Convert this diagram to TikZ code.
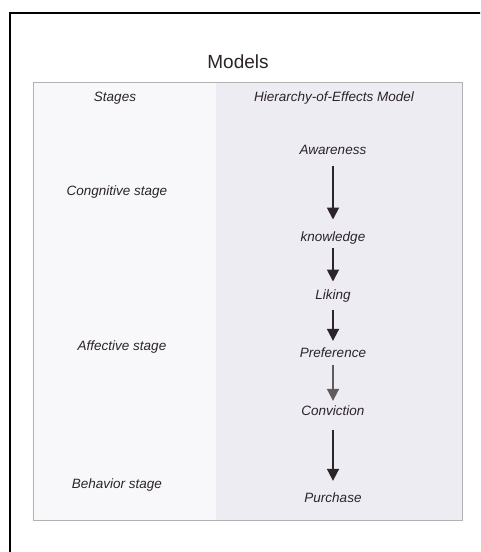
\documentclass[tikz,border=0pt]{standalone}
\usepackage{fontspec}
\setmainfont{Liberation Sans}
\usetikzlibrary{arrows.meta}

\definecolor{colshade}{HTML}{EDECF2}
\definecolor{colpale}{HTML}{F8F8FA}
\definecolor{inkdark}{HTML}{2B2429}

\tikzset{
  lbl/.style={font=\itshape\fontsize{13.5}{15}\selectfont, inner sep=0pt, text=inkdark},
  flow/.style={line width=1.8pt, draw=inkdark, -{Triangle[width=12pt,length=12pt]}},
}

\begin{document}
\begin{tikzpicture}[x=1pt,y=-1pt]
      \useasboundingbox (0,0) rectangle (480,552);
      \clip (0,0) rectangle (480,552);

      % Frame
      \fill [white] (0,0) rectangle (480,552);
      \draw [line width=1.3pt] (10,560) -- (10,13) -- (490,13);

      % Table
      \fill [colpale] (33,82) rectangle (216,520);
      \fill [colshade] (216,82) rectangle (462,520);
      \draw [gray!60,line width=0.8pt] (33,82) rectangle (462,520);

      % Headings
      \node [font=\fontsize{19}{21}\selectfont,text=inkdark] (models) at (238,62) {Models};
      \node [lbl] (stages) at (115,98) {Stages};
      \node [lbl] (hoe) at (334,98) {Hierarchy-of-Effects Model};

      % Stages
      \node [lbl] (cogn) at (117,192) {Congnitive stage};
      \node [lbl] (affe) at (122,347) {Affective stage};
      \node [lbl] (beha) at (117,485) {Behavior stage};

      % Steps
      \node [lbl] (aware) at (333,150) {Awareness};
      \node [lbl] (know) at (333,238) {knowledge};
      \node [lbl] (liking) at (333,296) {Liking};
      \node [lbl] (pref) at (333,353) {Preference};
      \node [lbl] (conv) at (333,411) {Conviction};
      \node [lbl] (purch) at (333,498) {Purchase};

      % Edges
      \draw [flow,shorten <=11pt,shorten >=12pt] (aware) -- (know);
      \draw [flow,shorten <=4pt,shorten >=8pt] (know) -- (liking);
      \draw [flow,shorten <=8pt,shorten >=7pt] (liking) -- (pref);
      \draw [flow,draw=inkdark!75,shorten <=7pt,shorten >=5pt] (pref) -- (conv);
      \draw [flow,shorten <=14pt,shorten >=12pt] (conv) -- (purch);
\end{tikzpicture}
\end{document}
